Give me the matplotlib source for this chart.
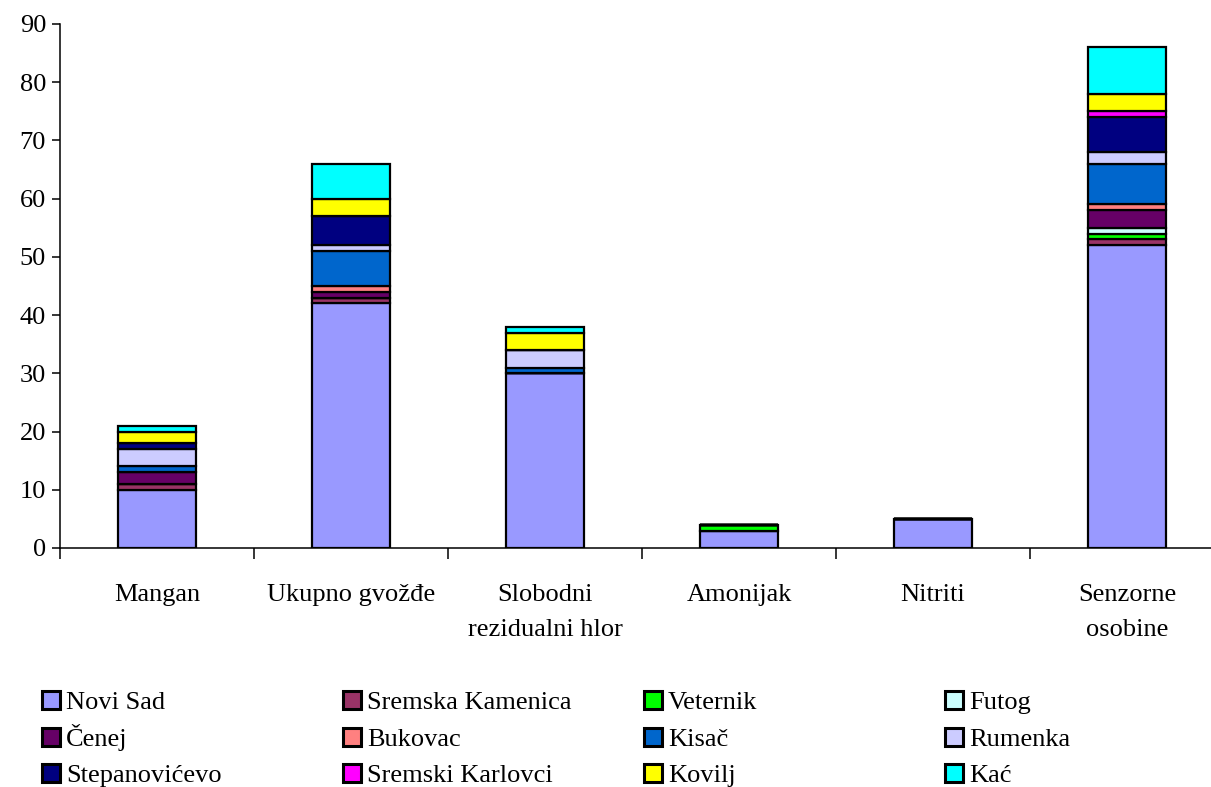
import numpy as np
import matplotlib.pyplot as plt
from matplotlib.ticker import FixedLocator

plt.rcParams['font.family'] = ['Liberation Serif', 'DejaVu Serif']

categories = ["Mangan", "Ukupno gvožđe", "Slobodni\nrezidualni hlor",
              "Amonijak", "Nitriti", "Senzorne\nosobine"]

places = ["Novi Sad", "Sremska Kamenica", "Veternik", "Futog",
          "Čenej", "Bukovac", "Kisač", "Rumenka",
          "Stepanovićevo", "Sremski Karlovci", "Kovilj", "Kać"]

colors = ["#9999FF", "#993366", "#00FF00", "#CCFFFF",
          "#660066", "#FF8080", "#0066CC", "#CCCCFF",
          "#000080", "#FF00FF", "#FFFF00", "#00FFFF"]

# counts per place, one value per category
novi_sad         = [10, 42, 30, 3, 5, 52]
sremska_kamenica = [1, 1, 0, 0, 0, 1]
veternik         = [0, 0, 0, 1, 0, 1]
futog            = [0, 0, 0, 0, 0, 1]
cenej            = [2, 1, 0, 0, 0, 3]
bukovac          = [0, 1, 0, 0, 0, 1]
kisac            = [1, 6, 1, 0, 0, 7]
rumenka          = [3, 1, 3, 0, 0, 2]
stepanovicevo    = [1, 5, 0, 0, 0, 6]
sremski_karlovci = [0, 0, 0, 0, 0, 1]
kovilj           = [2, 3, 3, 0, 0, 3]
kac              = [1, 6, 1, 0, 0, 8]

series = [novi_sad, sremska_kamenica, veternik, futog, cenej, bukovac,
          kisac, rumenka, stepanovicevo, sremski_karlovci, kovilj, kac]

W, H = 1211, 787
fig = plt.figure(figsize=(W / 100, H / 100), dpi=100)
ax = fig.add_axes([60 / W, (H - 548) / H, (1224 - 60) / W, (548 - 24) / H])

x = np.arange(len(categories))
bottom = np.zeros(len(categories))
handles = []
for name, vals, col in zip(places, series, colors):
    vals = np.array(vals, dtype=float)
    b = ax.bar(x, vals, width=0.4, bottom=bottom, color=col,
               edgecolor="black", linewidth=1.6, label=name)
    handles.append(b)
    bottom += vals

ax.set_xlim(-0.5, len(categories) - 0.5)
ax.set_ylim(0, 90)
ax.set_yticks(range(0, 91, 10))
ax.tick_params(axis='y', labelsize=19, length=6, width=1.1, direction='out', pad=4)

ax.set_xticks(x)
ax.set_xticklabels(categories, fontsize=19, linespacing=1.75, va='top')
ax.tick_params(axis='x', which='major', length=0, pad=26)
ax.xaxis.set_minor_locator(FixedLocator(np.arange(-0.5, len(categories), 1.0)))
ax.tick_params(axis='x', which='minor', length=8, width=1.1, direction='out')

for s in ['top', 'right']:
    ax.spines[s].set_visible(False)
for s in ['left', 'bottom']:
    ax.spines[s].set_linewidth(1.1)

# legend: 4 columns x 3 rows, row-major, each entry placed on a fixed grid
# anchored at the bottom so all baselines line up
col_px = [42, 343, 644, 945]
row_px = [702, 739, 775]
for i, (h, name) in enumerate(zip(handles, places)):
    r, c = divmod(i, 4)
    leg = fig.legend([h], [name], loc='lower left',
                     bbox_to_anchor=(col_px[c] / W, 1 - (row_px[r] + 12) / H),
                     frameon=False, fontsize=19, handlelength=0.7, handleheight=0.7,
                     handletextpad=0.2, borderpad=0, borderaxespad=0)
    for p in leg.get_patches():
        p.set_linewidth(2.2)

fig.savefig("out.png", dpi=100)
